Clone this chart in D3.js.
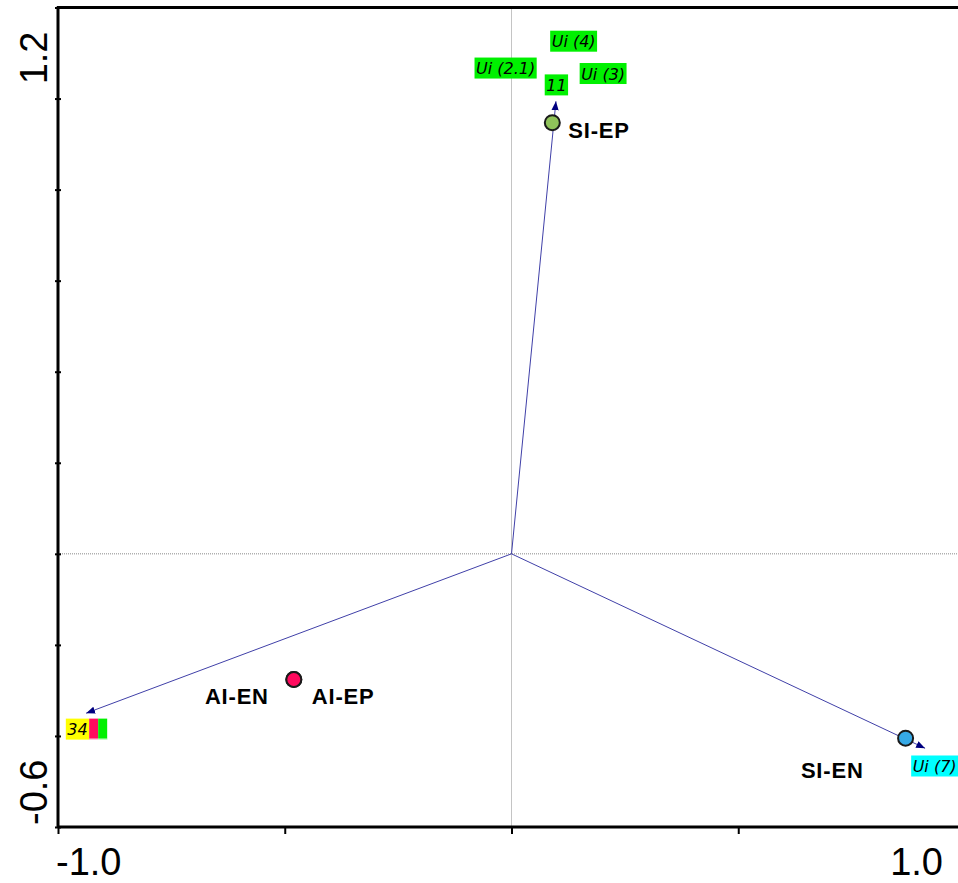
<!DOCTYPE html>
<html>
    <head>
        <title>Biplot</title>
        <style>
        html, body{
            margin: 0;
            border: 0;
            background: white;
        }
        svg{
            display: block;
        }
        </style>
    </head>
    <body>
        <svg width="958" height="883"></svg>

        <script src="https://cdnjs.cloudflare.com/ajax/libs/d3/7.8.5/d3.min.js"></script>
        <script>
            // arrows (vectors from the origin)
            let arrowNames = ["SI-EP", "AI", "SI-EN"];
            let arrowX = [0.098, -0.938, 0.912];
            let arrowY = [0.994, -0.350, -0.427];

            // supplementary points
            let pointNames = ["SI-EP", "AI-EN", "AI-EP", "SI-EN"];
            let pointX = [0.090, -0.480, -0.480, 0.869];
            let pointY = [0.947, -0.276, -0.276, -0.405];
            let pointFill = ["#8fc25a", "#ff0a5e", "#ff0a5e", "#36a9e6"];

            // sample labels
            let sampleNames = ["Ui (4)", "Ui (2.1)", "Ui (3)", "11", "Ui (7)", "34"];
            let sampleX = [0.137, -0.013, 0.202, 0.099, 0.933, -0.957];
            let sampleY = [1.126, 1.067, 1.055, 1.030, -0.466, -0.385];
            let sampleFill = ["#00f000", "#00f000", "#00f000", "#00f000", "#00ffff", "#ffff00"];

            let xTicks = [-1, -0.5, 0, 0.5, 1];
            let yTicks = [-0.6, -0.4, -0.2, 0, 0.2, 0.4, 0.6, 0.8, 1.0, 1.2];
            let xTickLabels = ["-1.0", "1.0"];
            let yTickLabels = ["-0.6", "1.2"];

            let margin = {top: 7.5, left: 58, bottom: 827, right: 965};

            let xScale = d3.scaleLinear().domain([-1, 1]).range([margin.left, margin.right]);
            let yScale = d3.scaleLinear().domain([-0.6, 1.2]).range([margin.bottom, margin.top]);

            let svg = d3.select("svg");

            svg.append("defs").append("marker")
                .attr("id", "head")
                .attr("viewBox", "0 -5 10 10")
                .attr("refX", 10)
                .attr("refY", 0)
                .attr("markerWidth", 9)
                .attr("markerHeight", 9)
                .attr("markerUnits", "userSpaceOnUse")
                .attr("orient", "auto")
                .append("path")
                .attr("d", "M0,-4L10,0L0,4Z")
                .attr("fill", "#000080");

            // zero lines
            svg.append("line")
                .attr("x1", xScale(0)).attr("x2", xScale(0))
                .attr("y1", yScale(1.2)).attr("y2", yScale(-0.6))
                .attr("stroke", "#888").attr("stroke-width", 1)
                .attr("stroke-dasharray", "1,1");
            svg.append("line")
                .attr("x1", xScale(-1)).attr("x2", xScale(1))
                .attr("y1", yScale(0)).attr("y2", yScale(0))
                .attr("stroke", "#888").attr("stroke-width", 1)
                .attr("stroke-dasharray", "1,1");

            // arrows
            svg.selectAll(".arrow")
                .data(arrowNames)
                .enter().append("line")
                .attr("class", "arrow")
                .attr("x1", xScale(0))
                .attr("y1", yScale(0))
                .attr("x2", (d, i) => xScale(arrowX[i]))
                .attr("y2", (d, i) => yScale(arrowY[i]))
                .attr("stroke", "#4040a8")
                .attr("stroke-width", 1)
                .attr("marker-end", "url(#head)");

            // sample labels with boxes
            let samples = svg.selectAll(".sample")
                .data(sampleNames)
                .enter().append("g")
                .attr("class", "sample")
                .attr("transform", (d, i) => "translate(" + [xScale(sampleX[i]), yScale(sampleY[i])] + ")");

            samples.each(function(d, i) {
                let g = d3.select(this);
                let rect = g.append("rect").attr("fill", sampleFill[i]);
                let t = g.append("text")
                    .text(d)
                    .attr("text-anchor", "middle")
                    .attr("y", 6)
                    .attr("font-family", "DejaVu Sans")
                    .attr("font-style", "italic")
                    .attr("font-size", 16)
                    .attr("fill", "black");
                let w = t.node().getComputedTextLength() + 3;
                rect.attr("x", -w / 2).attr("y", -10.5).attr("width", w).attr("height", 21);
                if (d === "34") {
                    g.append("rect").attr("x", w / 2).attr("y", -10.5).attr("width", 9).attr("height", 21).attr("fill", "#ff0a5e");
                    g.append("rect").attr("x", w / 2 + 9).attr("y", -10.5).attr("width", 9).attr("height", 21).attr("fill", "#00f000");
                    g.append("line").attr("x1", w / 2).attr("x2", w / 2 + 18).attr("y1", 10).attr("y2", 10).attr("stroke", "white").attr("stroke-width", 1);
                }
            });

            // points
            svg.selectAll(".pt")
                .data(pointNames)
                .enter().append("circle")
                .attr("class", "pt")
                .attr("cx", (d, i) => xScale(pointX[i]))
                .attr("cy", (d, i) => yScale(pointY[i]))
                .attr("r", 7.5)
                .attr("fill", (d, i) => pointFill[i])
                .attr("stroke", "#1a1a1a")
                .attr("stroke-width", 2);

            // point labels, offsets in px from the point
            let labelOffset = {
                "SI-EP": [16, 15, "start"],
                "AI-EN": [-25, 25, "end"],
                "AI-EP": [18, 25, "start"],
                "SI-EN": [-42, 40, "end"]
            };
            svg.selectAll(".plabel")
                .data(pointNames)
                .enter().append("text")
                .attr("class", "plabel")
                .attr("x", (d, i) => xScale(pointX[i]) + labelOffset[d][0])
                .attr("y", (d, i) => yScale(pointY[i]) + labelOffset[d][1])
                .attr("text-anchor", d => labelOffset[d][2])
                .attr("font-family", "Liberation Sans, Arial")
                .attr("font-weight", "bold")
                .attr("font-size", 22)
                .attr("letter-spacing", 0.8)
                .text(d => d);

            // axes
            let xAxis = d3.axisBottom(xScale).tickValues(xTicks).tickSize(7).tickFormat("");
            let yAxis = d3.axisLeft(yScale).tickValues(yTicks).tickSize(3).tickFormat("");

            let gx = svg.append("g")
                .attr("transform", "translate(0," + margin.bottom + ")")
                .call(xAxis);
            gx.select(".domain").remove();
            gx.selectAll(".tick line").attr("stroke-width", 2).attr("y1", -1);

            let gy = svg.append("g")
                .attr("transform", "translate(" + margin.left + ",0)")
                .call(yAxis);
            gy.select(".domain").remove();
            gy.selectAll(".tick line").attr("stroke-width", 2).attr("x2", 3).attr("x1", -3);

            // frame lines
            svg.append("line")
                .attr("x1", margin.left).attr("x2", 958)
                .attr("y1", margin.bottom).attr("y2", margin.bottom)
                .attr("stroke", "black").attr("stroke-width", 3);
            svg.append("line")
                .attr("x1", margin.left).attr("x2", margin.left)
                .attr("y1", margin.top - 1).attr("y2", margin.bottom + 1)
                .attr("stroke", "black").attr("stroke-width", 3);
            svg.append("line")
                .attr("x1", margin.left - 1).attr("x2", 958)
                .attr("y1", margin.top).attr("y2", margin.top)
                .attr("stroke", "black").attr("stroke-width", 3);

            // end labels
            svg.selectAll(".xlab")
                .data(xTickLabels)
                .enter().append("text")
                .attr("class", "xlab")
                .attr("x", (d, i) => i === 0 ? xScale(-1) - 2 : xScale(1) - 22)
                .attr("y", 875)
                .attr("text-anchor", (d, i) => i === 0 ? "start" : "end")
                .attr("font-family", "Liberation Sans, Arial")
                .attr("font-size", 38)
                .text(d => d);

            svg.selectAll(".ylab")
                .data(yTickLabels)
                .enter().append("text")
                .attr("class", "ylab")
                .attr("transform", (d, i) => "translate(47," + (i === 0 ? yScale(-0.6) - 2 : yScale(1.2) + 24) + ") rotate(-90)")
                .attr("text-anchor", (d, i) => i === 0 ? "start" : "end")
                .attr("font-family", "Liberation Sans, Arial")
                .attr("font-size", 38)
                .text(d => d);
        </script>
    </body>
</html>
